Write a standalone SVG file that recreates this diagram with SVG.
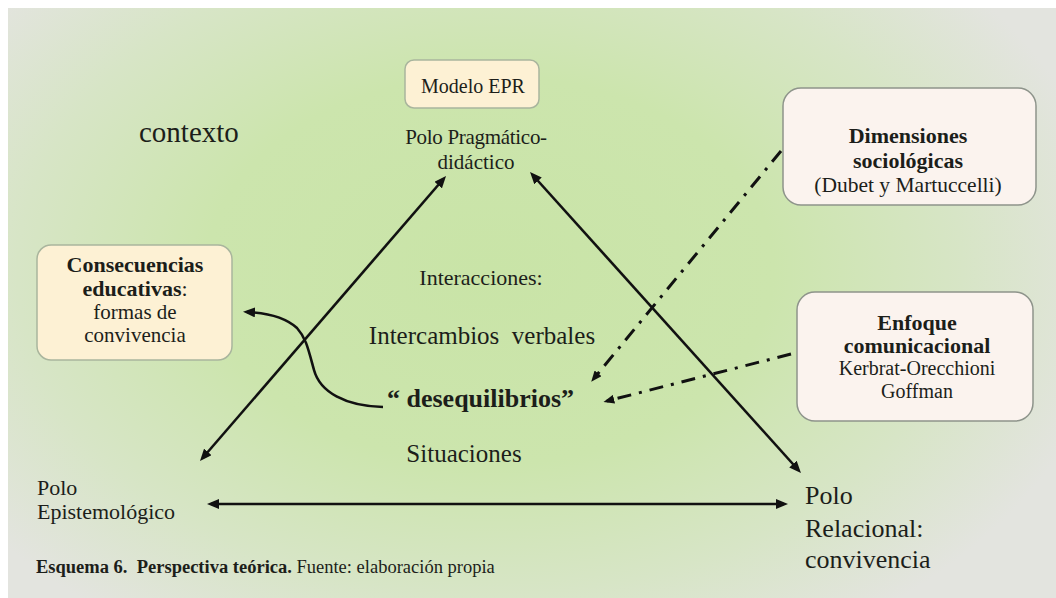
<svg xmlns="http://www.w3.org/2000/svg" width="1056" height="598" viewBox="0 0 1056 598">
<defs>
<radialGradient id="bg" gradientUnits="userSpaceOnUse" cx="490" cy="270" r="600" gradientTransform="translate(490 270) scale(1.05 0.72) translate(-490 -270)">
<stop offset="0" stop-color="#c9e4a7"/>
<stop offset="0.45" stop-color="#cce5ad"/>
<stop offset="0.75" stop-color="#d7e5c6"/>
<stop offset="1" stop-color="#e3e4df"/>
</radialGradient>
<marker id="ah" viewBox="0 0 12 10" markerWidth="12" markerHeight="10" refX="8" refY="5" orient="auto-start-reverse" markerUnits="userSpaceOnUse">
<path d="M0,0 L12,5 L0,10 z" fill="#111"/>
</marker>
<marker id="ahs" viewBox="0 0 12 10" markerWidth="11" markerHeight="9" refX="8" refY="5" orient="auto-start-reverse" markerUnits="userSpaceOnUse">
<path d="M0,0 L12,5 L0,10 z" fill="#111"/>
</marker>
</defs>
<style>
text{font-family:"Liberation Serif","Times New Roman",serif;fill:#1c1e1a}
.b{font-weight:bold}
.c{text-anchor:middle}
.box{stroke-width:1.5}
.cream{fill:#fdf1d4;stroke:#a9b59d}
.pink{fill:#fbf3ee;stroke:#8e948b}
.sol{fill:none;stroke:#111;stroke-width:2.6}
.dd{fill:none;stroke:#111;stroke-width:3;stroke-dasharray:14 8 3 8}
</style>
<rect x="0" y="0" width="1056" height="598" fill="#ffffff"/>
<rect x="8" y="8" width="1048" height="590" fill="url(#bg)"/>

<g id="connectors">
<line class="sol" x1="202.6" y1="458" x2="443.4" y2="179" marker-start="url(#ah)" marker-end="url(#ah)"/>
<line class="sol" x1="532.7" y1="175" x2="798.3" y2="470" marker-start="url(#ah)" marker-end="url(#ah)"/>
<line class="sol" x1="211" y1="504" x2="784" y2="504" marker-start="url(#ah)" marker-end="url(#ah)"/>
<path class="sol" d="M383,407 C345,406 320,392 314,370 C308,348 306,338 297,328 C285,317 268,313 247,312" marker-end="url(#ah)"/>
<line class="dd" x1="781" y1="151" x2="593.5" y2="378.9" marker-end="url(#ahs)"/>
<line class="dd" x1="791" y1="354" x2="607" y2="401" marker-end="url(#ahs)"/>
</g>

<g id="contexto"><text x="139" y="142" font-size="29">contexto</text></g>

<g id="modelo-epr">
<rect class="box cream" x="405" y="60" width="134" height="48" rx="9"/>
<text class="c" x="473" y="93" font-size="20">Modelo EPR</text>
</g>

<g id="polo-pragmatico">
<text class="c" x="476" y="144" font-size="21" letter-spacing="-0.3">Polo Pragmático-</text>
<text class="c" x="476" y="169" font-size="21">didáctico</text>
</g>

<g id="dimensiones">
<rect class="box pink" x="783" y="88" width="253" height="117" rx="18"/>
<text class="c b" x="908" y="143" font-size="22">Dimensiones</text>
<text class="c b" x="908" y="168" font-size="22">sociológicas</text>
<text class="c" x="908" y="192" font-size="21.5">(Dubet y Martuccelli)</text>
</g>

<g id="enfoque">
<rect class="box pink" x="797" y="292" width="236" height="129" rx="18"/>
<text class="c b" x="917" y="330" font-size="22">Enfoque</text>
<text class="c b" x="917" y="353" font-size="22">comunicacional</text>
<text class="c" x="917" y="375" font-size="20">Kerbrat-Orecchioni</text>
<text class="c" x="917" y="398" font-size="20">Goffman</text>
</g>

<g id="consecuencias">
<rect class="box cream" x="37" y="245" width="195" height="115" rx="14"/>
<text class="c b" x="135" y="272" font-size="22">Consecuencias</text>
<text class="c" x="135" y="296" font-size="22"><tspan class="b">educativas</tspan>:</text>
<text class="c" x="135" y="319" font-size="21">formas de</text>
<text class="c" x="135" y="342" font-size="21">convivencia</text>
</g>

<g id="centro">
<text class="c" x="481" y="285" font-size="22">Interacciones:</text>
<text class="c" x="482" y="344" font-size="25" xml:space="preserve">Intercambios  verbales</text>
<text class="b" x="387" y="407" font-size="26">“ desequilibrios”</text>
<text class="c" x="464" y="462" font-size="25">Situaciones</text>
</g>

<g id="polo-epistemologico">
<text x="37" y="495" font-size="22">Polo</text>
<text x="37" y="519" font-size="22">Epistemológico</text>
</g>

<g id="polo-relacional">
<text x="805" y="504" font-size="26">Polo</text>
<text x="805" y="537" font-size="26">Relacional:</text>
<text x="805" y="568" font-size="26">convivencia</text>
</g>

<g id="caption">
<text x="36" y="573" font-size="18.5" xml:space="preserve"><tspan class="b">Esquema 6.  Perspectiva teórica.</tspan> Fuente: elaboración propia</text>
</g>
</svg>
